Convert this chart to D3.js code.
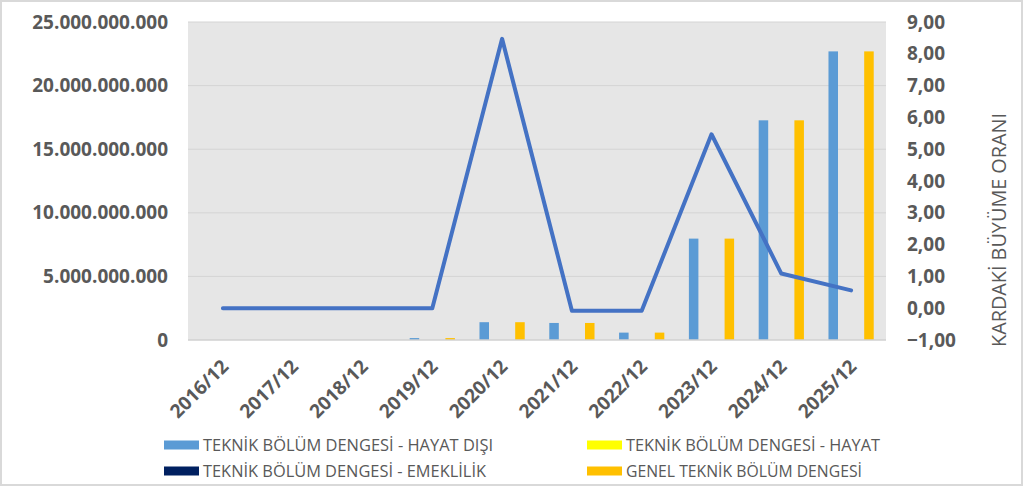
<!DOCTYPE html>
<html>
<head>
<meta charset="utf-8">
<script src="https://cdn.jsdelivr.net/npm/d3@7"></script>
<style>
  body { margin: 0; background: #fff; }
  svg { display: block; font-family: "Open Sans", "Liberation Sans", sans-serif; }
</style>
</head>
<body>
<svg id="chart" width="1024" height="487"></svg>
<script>
// Chart data
const categories = ['2016/12', '2017/12', '2018/12', '2019/12', '2020/12', '2021/12', '2022/12', '2023/12', '2024/12', '2025/12'];
const hayatDisi = [0, 0, 0, 0.15e9, 1.4e9, 1.34e9, 0.58e9, 7.97e9, 17.27e9, 22.69e9];
const hayat = [0, 0, 0, 0, 0, 0, 0, 0, 0, 0];
const emeklilik = [0, 0, 0, 0, 0, 0, 0, 0, 0, 0];
const genel = [0, 0, 0, 0.15e9, 1.4e9, 1.34e9, 0.58e9, 7.97e9, 17.27e9, 22.69e9];
const buyume = [0, 0, 0, 0, 8.47, -0.08, -0.08, 5.47, 1.09, 0.56];
const leftTicks = [0, 5e9, 10e9, 15e9, 20e9, 25e9];
const rightTicks = [-1, 0, 1, 2, 3, 4, 5, 6, 7, 8, 9];

const seriesNames = ['TEKNİK BÖLÜM DENGESİ - HAYAT DIŞI', 'TEKNİK BÖLÜM DENGESİ - HAYAT', 'TEKNİK BÖLÜM DENGESİ - EMEKLİLİK', 'GENEL TEKNİK BÖLÜM DENGESİ'];
const seriesColors = ['#5B9BD5', '#FFFF00', '#002060', '#FFC000'];
const seriesValues = [hayatDisi, hayat, emeklilik, genel];

const svg = d3.select('#chart');
const plot = { left: 188, right: 886, top: 22, bottom: 340 };
const textColor = '#595959';

// outer frame
svg.append('rect')
    .attr('x', 1).attr('y', 1).attr('width', 1021).attr('height', 484)
    .attr('fill', '#fff').attr('stroke', '#d9d9d9').attr('stroke-width', 2);

// plot background
svg.append('rect')
    .attr('x', plot.left).attr('y', plot.top)
    .attr('width', plot.right - plot.left).attr('height', plot.bottom - plot.top)
    .attr('fill', '#e6e6e6');

// scales
const x = d3.scaleBand().domain(categories).range([plot.left, plot.right]).padding(0);
const xs = d3.scaleBand().domain(d3.range(4)).range([-25, 25]).padding(0.2);
const yLeft = d3.scaleLinear().domain([0, 25e9]).range([plot.bottom, plot.top]);
const yRight = d3.scaleLinear().domain([-1, 9]).range([plot.bottom, plot.top]);

const fmtLeft = v => d3.format(',.0f')(v).replace(/,/g, '.');
const fmtRight = v => d3.format('.2f')(v).replace('.', ',');

// gridlines
svg.append('g')
    .selectAll('line')
    .data(leftTicks.slice(1))
    .join('line')
    .attr('x1', plot.left).attr('x2', plot.right)
    .attr('y1', d => yLeft(d)).attr('y2', d => yLeft(d))
    .attr('stroke', '#d4d4d4').attr('stroke-width', 1);

// left axis
const leftAxis = svg.append('g')
    .attr('transform', `translate(${plot.left - 20},0)`)
    .call(d3.axisLeft(yLeft).tickValues(leftTicks).tickFormat(fmtLeft).tickSize(0).tickPadding(0));
leftAxis.select('.domain').remove();
leftAxis.selectAll('text')
    .attr('fill', textColor).attr('font-size', 19).attr('font-weight', 700)
    .attr('font-family', '"Open Sans", sans-serif');

// right axis
const rightAxis = svg.append('g')
    .attr('transform', `translate(${plot.right + 21},0)`)
    .call(d3.axisRight(yRight).tickValues(rightTicks).tickFormat(fmtRight).tickSize(0).tickPadding(0));
rightAxis.select('.domain').remove();
rightAxis.selectAll('text')
    .attr('fill', textColor).attr('font-size', 19).attr('font-weight', 700)
    .attr('font-family', '"Open Sans", sans-serif');

// bars
const barGroups = svg.append('g')
    .selectAll('g')
    .data(seriesValues)
    .join('g')
    .attr('fill', (d, i) => seriesColors[i]);

barGroups.each(function (vals, si) {
    d3.select(this).selectAll('rect')
        .data(vals)
        .join('rect')
        .attr('x', (d, i) => x(categories[i]) + x.bandwidth() / 2 + xs(si))
        .attr('width', xs.bandwidth())
        .attr('y', d => yLeft(d))
        .attr('height', d => yLeft(0) - yLeft(d));
});

// bottom axis line
svg.append('line')
    .attr('x1', plot.left).attr('x2', plot.right)
    .attr('y1', plot.bottom).attr('y2', plot.bottom)
    .attr('stroke', '#d0d0d0').attr('stroke-width', 1.5);

// growth line
const line = d3.line()
    .x((d, i) => x(categories[i]) + x.bandwidth() / 2)
    .y(d => yRight(d));

svg.append('path')
    .datum(buyume)
    .attr('d', line)
    .attr('fill', 'none')
    .attr('stroke', '#4472C4')
    .attr('stroke-width', 4)
    .attr('stroke-linejoin', 'round')
    .attr('stroke-linecap', 'round');

// x labels
svg.append('g')
    .selectAll('text')
    .data(categories)
    .join('text')
    .attr('transform', d => `translate(${x(d) + x.bandwidth() / 2 + 2},363) rotate(-45)`)
    .attr('text-anchor', 'end')
    .attr('dy', '0.35em')
    .attr('fill', textColor).attr('font-size', 19).attr('font-weight', 700)
    .text(d => d);

// right axis title
svg.append('text')
    .attr('transform', 'translate(1006,230) rotate(-90)')
    .attr('text-anchor', 'middle')
    .attr('fill', textColor).attr('font-size', 20)
    .attr('textLength', 234).attr('lengthAdjust', 'spacingAndGlyphs')
    .text('KARDAKİ BÜYÜME ORANI');

// legend
const legendPos = [
    { x: 164, y: 445, w: 290 },
    { x: 587, y: 445, w: 254 },
    { x: 164, y: 471, w: 283 },
    { x: 587, y: 471, w: 236 }
];
const legend = svg.append('g')
    .selectAll('g')
    .data(seriesNames)
    .join('g')
    .attr('transform', (d, i) => `translate(${legendPos[i].x},${legendPos[i].y})`);

legend.append('rect')
    .attr('x', 0).attr('y', -4.5).attr('width', 35).attr('height', 9)
    .attr('fill', (d, i) => seriesColors[i]);

legend.append('text')
    .attr('x', 39).attr('dy', '0.36em')
    .attr('fill', textColor).attr('font-size', 17)
    .attr('textLength', (d, i) => legendPos[i].w).attr('lengthAdjust', 'spacingAndGlyphs')
    .text(d => d);
</script>
</body>
</html>
